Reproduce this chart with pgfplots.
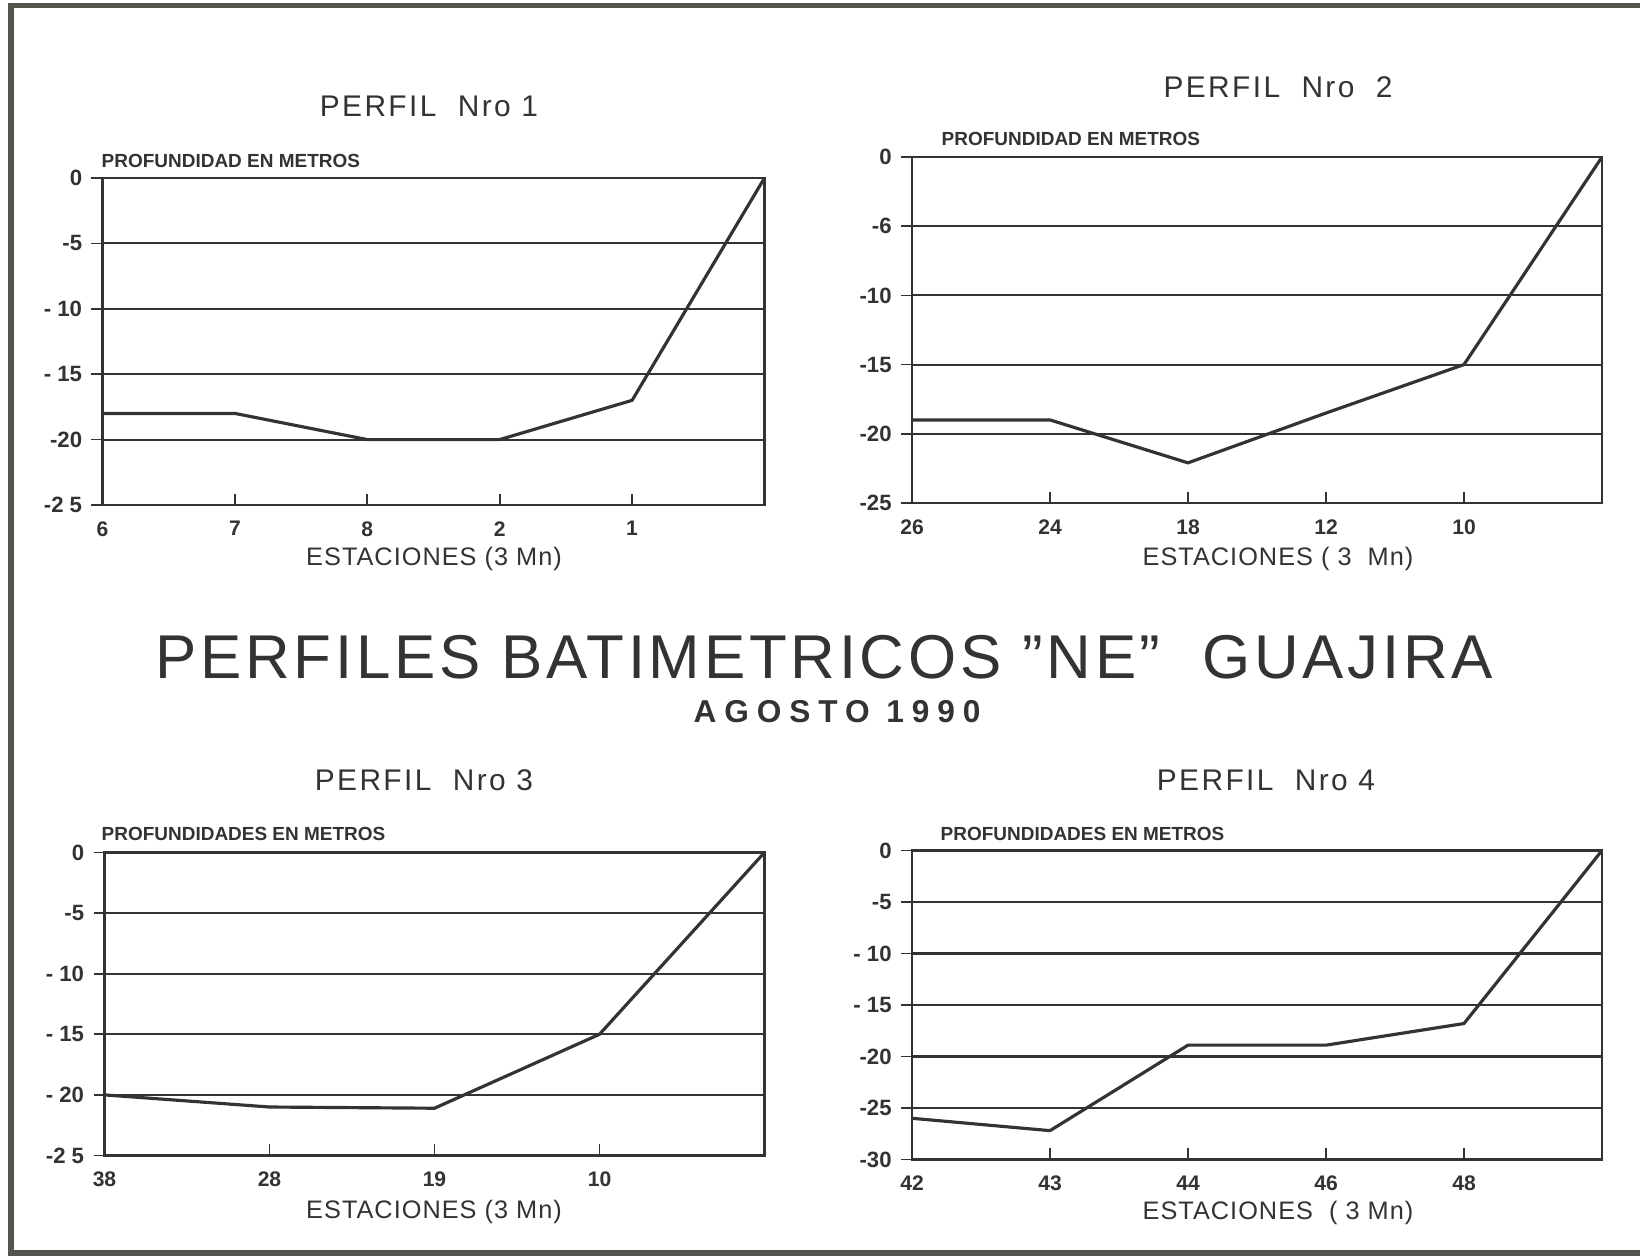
\documentclass[border=0pt]{standalone}
\usepackage{fontspec}
\setmainfont{Liberation Sans}
\usepackage{graphicx}
\usepackage{pgfplots}
\pgfplotsset{compat=1.18}
\definecolor{ink}{HTML}{333333}
\definecolor{framec}{HTML}{55554F}

\pgfplotsset{panel/.style={
  scale only axis, anchor=north west,
  axis line style={ink, line width=0.75pt},
  ymajorgrids, grid style={ink, line width=0.6pt},
  xtick pos=bottom, ytick pos=left,
  xtick align=inside, ytick align=outside,
  major tick length=1.1mm,
  tick style={ink, line width=0.5pt},
  x tick label style={font=\bfseries\fontsize{6}{7}\selectfont, text=ink, yshift=-0.4mm},
  y tick label style={font=\bfseries\fontsize{6.3}{7}\selectfont, text=ink, xshift=0.3mm},
}}
\pgfplotsset{prof/.style={ink, line width=0.9pt, mark=none, line join=round}}

\newcommand{\ptitle}[1]{{\fontsize{8.5}{10}\selectfont\addfontfeature{LetterSpace=8}#1}}
\newcommand{\plabel}[1]{{\bfseries\fontsize{5.4}{6}\selectfont #1}}
\newcommand{\xlab}[1]{{\fontsize{7.2}{8}\selectfont\addfontfeature{LetterSpace=4}#1}}

\begin{document}
\begin{tikzpicture}
\useasboundingbox (0,0) rectangle (164mm,125.6mm);
\fill[white] (0,0) rectangle (164mm,125.6mm);
\draw[framec, line width=0.55mm] (1.1mm,0mm) -- (1.1mm,125.05mm) -- (164mm,125.05mm);
\draw[framec, line width=0.55mm] (1.1mm,0.3mm) -- (164mm,0.3mm);

% Panel 1
\begin{axis}[panel, at={(10.25mm,107.8mm)}, width=66.2mm, height=32.7mm,
  xmin=0, xmax=5, ymin=-25, ymax=0,
  xtick={0,1,2,3,4}, xticklabels={6,7,8,2,1},
  ytick={0,-5,-10,-15,-20,-25}, yticklabels={0,-5,- 10,- 15,-20,-2 5}]
\addplot[prof] coordinates {(0,-18) (1,-18) (2,-20) (3,-20) (4,-17) (5,0)};
\end{axis}

% Panel 2
\begin{axis}[panel, at={(91.2mm,109.9mm)}, width=69.0mm, height=34.6mm,
  xmin=0, xmax=5, ymin=-25, ymax=0,
  xtick={0,1,2,3,4}, xticklabels={26,24,18,12,10},
  ytick={0,-5,-10,-15,-20,-25}, yticklabels={0,-6,-10,-15,-20,-25}]
\addplot[prof] coordinates {(0,-19) (1,-19) (2,-22.1) (3,-18.5) (4,-15) (5,0)};
\end{axis}

% Panel 3
\begin{axis}[panel, at={(10.45mm,40.35mm)}, width=66.0mm, height=30.3mm,
  xmin=0, xmax=4, ymin=-25, ymax=0,
  xtick={0,1,2,3}, xticklabels={38,28,19,10},
  ytick={0,-5,-10,-15,-20,-25}, yticklabels={0,-5,- 10,- 15,- 20,-2 5}]
\addplot[prof] coordinates {(0,-20) (1,-21) (2,-21.1) (3,-15) (4,0)};
\end{axis}

% Panel 4
\begin{axis}[panel, at={(91.2mm,40.55mm)}, width=69.0mm, height=30.9mm,
  xmin=0, xmax=5, ymin=-30, ymax=0,
  xtick={0,1,2,3,4}, xticklabels={42,43,44,46,48},
  ytick={0,-5,-10,-15,-20,-25,-30}, yticklabels={0,-5,- 10,- 15,-20,-25,-30}]
\addplot[prof] coordinates {(0,-26) (1,-27.2) (2,-18.9) (3,-18.9) (4,-16.8) (5,0)};
\end{axis}

% Titles
\node[text=ink] at (42.9mm,115.0mm) {\ptitle{PERFIL\ \ Nro 1}};
\node[text=ink] at (127.8mm,116.9mm) {\ptitle{PERFIL\ \ Nro\ \ 2}};
\node[text=ink] at (42.4mm,47.6mm) {\ptitle{PERFIL\ \ Nro 3}};
\node[text=ink] at (126.6mm,47.6mm) {\ptitle{PERFIL\ \ Nro 4}};

\node[text=ink] at (82.4mm,59.9mm) {\fontsize{17.6}{20}\selectfont\addfontfeature{LetterSpace=6}PERFILES BATIMETRICOS ''NE''\ \ GUAJIRA};
\node[text=ink] at (83.7mm,54.4mm) {\bfseries\fontsize{9}{10}\selectfont\addfontfeature{LetterSpace=25}AGOSTO 1990};

% y labels
\node[text=ink, anchor=west, inner sep=0pt] at (10.1mm,109.5mm) {\plabel{PROFUNDIDAD EN METROS}};
\node[text=ink, anchor=west, inner sep=0pt] at (94.1mm,111.7mm) {\plabel{PROFUNDIDAD EN METROS}};
\node[text=ink, anchor=west, inner sep=0pt] at (10.1mm,42.2mm) {\plabel{PROFUNDIDADES EN METROS}};
\node[text=ink, anchor=west, inner sep=0pt] at (94.0mm,42.2mm) {\plabel{PROFUNDIDADES EN METROS}};

% x labels
\node[text=ink] at (43.4mm,69.7mm) {\xlab{ESTACIONES (3 Mn)}};
\node[text=ink] at (127.8mm,69.7mm) {\xlab{ESTACIONES ( 3\ \ Mn)}};
\node[text=ink] at (43.4mm,4.4mm) {\xlab{ESTACIONES (3 Mn)}};
\node[text=ink] at (127.8mm,4.3mm) {\xlab{ESTACIONES\ \ ( 3 Mn)}};
\end{tikzpicture}
\end{document}
